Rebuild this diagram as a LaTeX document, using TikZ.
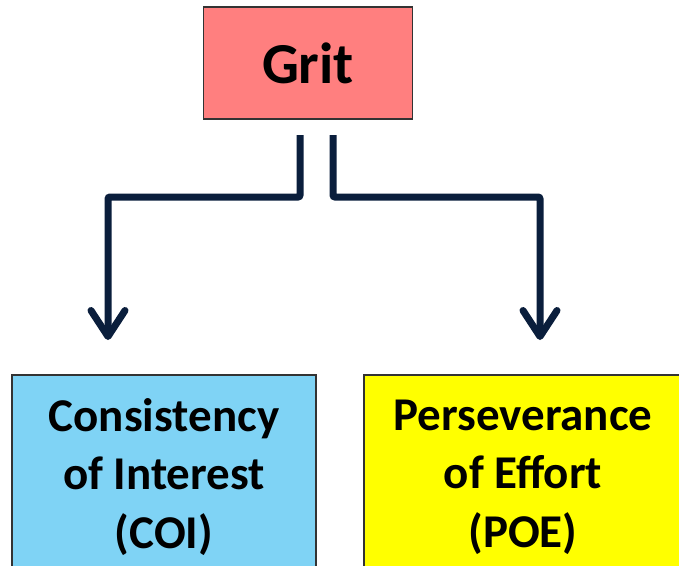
\documentclass[tikz,border=0pt]{standalone}
\usepackage{fontspec}
\setmainfont{Carlito}
\usetikzlibrary{arrows.meta}
\definecolor{gritfill}{HTML}{FF7F7F}
\definecolor{coifill}{HTML}{7FD3F5}
\definecolor{poefill}{HTML}{FFFF00}
\definecolor{navy}{HTML}{0A1E3C}
\definecolor{boxline}{HTML}{333333}
\tikzset{
  box/.style={draw=boxline, line width=1.5pt, inner sep=0pt, align=center, font=\bfseries},
  conn/.style={draw=navy, line width=7pt, rounded corners=2pt,
    -{Straight Barb[length=26pt,width=34pt,round]}},
}
\begin{document}
\begin{tikzpicture}[x=1pt,y=1pt]
\useasboundingbox (0,0) rectangle (679,-565);
\clip (0,0) rectangle (679,-565);
\fill[white] (0,0) rectangle (679,-565);
\node[box, fill=gritfill, minimum width=209pt, minimum height=112pt,
  font=\bfseries\fontsize{58}{60}\selectfont] (grit) at (308,-63) {Grit};
\node[box, fill=coifill, minimum width=304pt, minimum height=204pt,
  font=\bfseries\fontsize{47}{58.5}\selectfont] (coi) at (164,-477)
  {Consistency\\of Interest\\(COI)};
\node[box, fill=poefill, minimum width=318pt, minimum height=204pt,
  font=\bfseries\fontsize{47}{58.5}\selectfont] (poe) at (523,-477)
  {Perseverance\\of Effort\\(POE)};
\coordinate (ls) at (300,-135);
\coordinate (rs) at (333,-135);
\coordinate (le) at (108,-340);
\coordinate (re) at (540,-340);
\draw[conn] (ls) |- (200,-197) -| (le);
\draw[conn] (rs) |- (440,-197) -| (re);
\end{tikzpicture}
\end{document}
